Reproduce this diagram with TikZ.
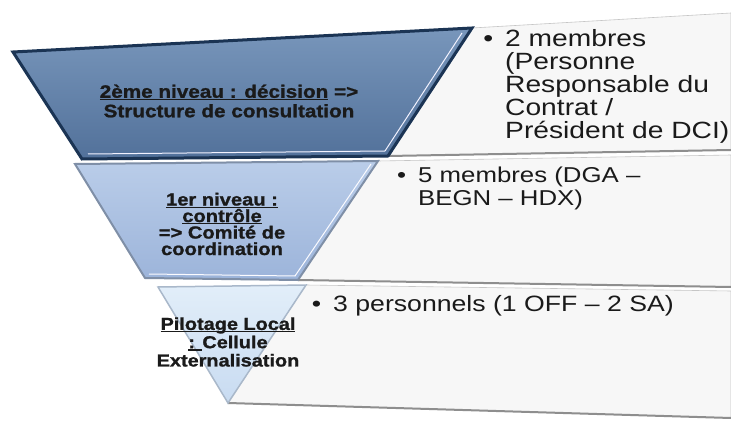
\documentclass[tikz,border=0pt]{standalone}
\usepackage{fontspec}
\setmainfont{Liberation Sans}[FakeStretch=1.2]
\newfontfamily\lvlfont{Liberation Sans}[FakeStretch=1.15, BoldFeatures={FakeBold=1.2}]
\newcommand{\lvlul}[1]{\setbox0\hbox{#1}\rlap{\rule[-2.4pt]{\wd0}{1.2pt}}\box0\relax}

\definecolor{navyedge}{HTML}{1B3454}
\definecolor{decisiontop}{HTML}{7896BB}
\definecolor{decisionbot}{HTML}{52719A}
\definecolor{controltop}{HTML}{BACDE9}
\definecolor{controlbot}{HTML}{9CB4DA}
\definecolor{controledge}{HTML}{7F8FA7}
\definecolor{localtop}{HTML}{E2EEF9}
\definecolor{localbot}{HTML}{C8DBF1}
\definecolor{localedge}{HTML}{A9B8CA}
\definecolor{panelfill}{HTML}{F7F7F7}
\definecolor{paneledge}{HTML}{8E8E8E}
\definecolor{inktext}{HTML}{1A1A1A}

\begin{document}
\begin{tikzpicture}[
    x=1pt, y=-1pt,
    panelbox/.style={
        fill=panelfill, draw=paneledge!50, line width=0.6pt
    },
    panelshadow/.style={
        draw=paneledge, line width=2pt
    },
    decisionbox/.style={
        top color=decisiontop, bottom color=decisionbot,
        draw=navyedge, line width=3pt, line join=miter
    },
    controlbox/.style={
        top color=controltop, bottom color=controlbot,
        draw=controledge, line width=2pt, line join=miter
    },
    localbox/.style={
        top color=localtop, bottom color=localbot,
        draw=localedge, line width=1.5pt, line join=miter
    },
    bevel/.style={draw=white!75!blue!20, line width=1pt},
    lvltext/.style={
        font=\lvlfont\fontsize{17.5}{16.5}\selectfont\bfseries, text=inktext,
        align=center, inner sep=0pt
    },
    paneltext/.style={
        text=inktext, align=left, inner sep=0pt, anchor=north west
    }
]
\useasboundingbox (0,0) rectangle (731,425);
\fill[white] (0,0) rectangle (731,425);

% ----------------------------------------------------------
% Bandeaux de droite (un par niveau)
% ----------------------------------------------------------
\path[panelbox] (472,28) -- (731,13) -- (731,150) -- (388,156) -- cycle;
\path[panelbox] (378,161) -- (731,155) -- (731,287) -- (298,280) -- cycle;
\path[panelbox] (306,285) -- (731,291) -- (731,418) -- (228,403) -- cycle;
\draw[panelshadow] (388,156) -- (731,150);
\draw[panelshadow] (298,280) -- (731,287);
\draw[panelshadow] (228,403) -- (731,418);

% ----------------------------------------------------------
% Pyramide inversee : trois niveaux
% ----------------------------------------------------------
\path[decisionbox] (13,52) -- (472,28) -- (388,156) -- (82,159) -- cycle;
\draw[bevel] (88,154) -- (385,151) -- (462,33);

\path[controlbox] (75,164) -- (378,161) -- (298,280) -- (145,278) -- cycle;
\draw[bevel, draw=white!85!blue!10] (149,274) -- (295,276) -- (371,164);

\path[localbox] (158,287) -- (306,285) -- (228,403) -- cycle;

% Textes des niveaux
\node[lvltext, font=\lvlfont\fontsize{18}{19.5}\selectfont\bfseries] (decision) at (229,101)
    {\lvlul{2ème niveau : décision} =>\\Structure de consultation};
\node[lvltext] (control) at (222,224)
    {\lvlul{1er niveau :}\\\lvlul{contrôle}\\=> Comité de\\coordination};
\node[lvltext, font=\lvlfont\fontsize{17.3}{18.3}\selectfont\bfseries] (local) at (228,342)
    {\lvlul{Pilotage Local}\\\lvlul{: }Cellule\\Externalisation};

% Textes des bandeaux
\node[paneltext, font=\fontsize{23.5}{23}\selectfont] (membres2) at (505,29)
    {\llap{•\hspace{12pt}}2 membres\\(Personne\\Responsable du\\Contrat /\\Président de DCI)};
\node[paneltext, font=\fontsize{21.5}{23}\selectfont] (membres5) at (418,167)
    {\llap{•\hspace{12pt}}5 membres (DGA –\\BEGN – HDX)};
\node[paneltext, font=\fontsize{22.2}{23}\selectfont] (personnels) at (333,295)
    {\llap{•\hspace{12pt}}3 personnels (1 OFF – 2 SA)};

\end{tikzpicture}
\end{document}
